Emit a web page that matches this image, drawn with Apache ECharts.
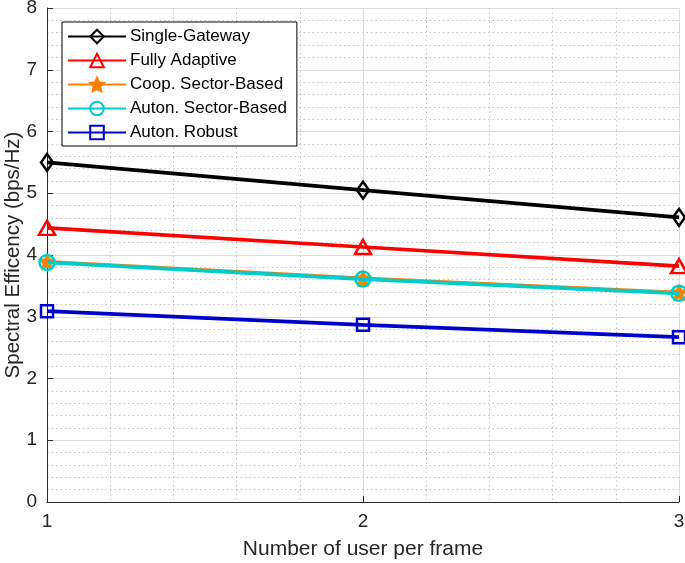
<!DOCTYPE html>
<html><head><meta charset="utf-8">
<script src="https://cdn.jsdelivr.net/npm/echarts@6/dist/echarts.min.js"></script>
<style>html,body{margin:0;padding:0;background:#fff}#c{width:685px;height:563px}</style>
</head><body><div id="c"></div>
<script>
var xValues = [1, 2, 3];
var singleGateway = [5.50, 5.05, 4.61];
var fullyAdaptive = [4.44, 4.13, 3.82];
var coopSector = [3.89, 3.62, 3.39];
var autonSector = [3.88, 3.61, 3.38];
var autonRobust = [3.09, 2.87, 2.67];
var seriesNames = ['Single-Gateway', 'Fully Adaptive', 'Coop. Sector-Based', 'Auton. Sector-Based', 'Auton. Robust'];

function pts(arr){ return xValues.map(function(x,i){ return [x, arr[i]]; }); }
var FONT = '"Liberation Sans", Arial, sans-serif';
var chart = echarts.init(document.getElementById('c'), null, {renderer:'canvas'});
function mk(name, data, color, symbol, size, filled, z){
  return {
    name: name, type: 'line', data: pts(data), z: z,
    symbol: symbol, symbolSize: size,
    lineStyle: {color: color, width: 3.7},
    itemStyle: {color: filled ? color : 'rgba(255,255,255,0)', borderColor: color, borderWidth: 2.5},
    emphasis: {disabled: true}, animation: false
  };
}
chart.setOption({
  animation: false,
  grid: {left: 47, right: 6, top: 8, bottom: 61, containLabel: false, outerBoundsMode: 'none'},
  legend: {
    left: 62, top: 22, orient: 'vertical',
    backgroundColor: '#fff', borderColor: '#000', borderWidth: 1,
    padding: [6, 10, 5, 5], itemGap: 7, itemWidth: 58, itemHeight: 17,
    textStyle: {fontFamily: FONT, fontSize: 17, color: '#000', padding: [0,0,0,-1]},
    data: seriesNames
  },
  xAxis: {
    type: 'value', min: 1, max: 3, interval: 1,
    name: 'Number of user per frame', nameLocation: 'middle', nameGap: 37, nameMoveOverlap: false,
    nameTextStyle: {fontFamily: FONT, fontSize: 21, color: '#262626'},
    axisLine: {show: true, lineStyle: {color: '#262626', width: 1}},
    axisTick: {show: true, inside: true, length: 6, lineStyle: {color: '#262626'}},
    axisLabel: {fontFamily: FONT, fontSize: 19, color: '#262626', margin: 10},
    splitLine: {show: true, lineStyle: {color: '#dcdcdc', width: 1}},
    minorTick: {show: false, splitNumber: 5},
    minorSplitLine: {show: true, lineStyle: {color: '#c4c4c4', type: [1.5, 3], width: 1}}
  },
  yAxis: {
    type: 'value', min: 0, max: 8, interval: 1,
    name: 'Spectral Efficency (bps/Hz)', nameLocation: 'middle', nameGap: 23, nameMoveOverlap: false,
    nameTextStyle: {fontFamily: FONT, fontSize: 20.5, color: '#262626'},
    axisLine: {show: true, lineStyle: {color: '#262626', width: 1}},
    axisTick: {show: true, inside: true, length: 6, lineStyle: {color: '#262626'}},
    axisLabel: {fontFamily: FONT, fontSize: 19, color: '#262626', margin: 10},
    splitLine: {show: true, lineStyle: {color: '#dcdcdc', width: 1}},
    minorTick: {show: false, splitNumber: 5},
    minorSplitLine: {show: true, lineStyle: {color: '#c4c4c4', type: [1.5, 3], width: 1}}
  },
  series: [
    mk(seriesNames[0], singleGateway, '#000000', 'diamond', [12, 17], false, 5),
    mk(seriesNames[1], fullyAdaptive, '#ff0000', 'triangle', [16, 14], false, 5),
    mk(seriesNames[2], coopSector, '#ff8000', 'path://M0,-10L2.9,-4L9.5,-3.1L4.7,1.5L5.9,8.1L0,5L-5.9,8.1L-4.7,1.5L-9.5,-3.1L-2.9,-4Z', 13, true, 4),
    mk(seriesNames[3], autonSector, '#00cccc', 'circle', 15, false, 6),
    mk(seriesNames[4], autonRobust, '#0000cc', 'rect', 12, false, 5)
  ]
});
</script></body></html>
